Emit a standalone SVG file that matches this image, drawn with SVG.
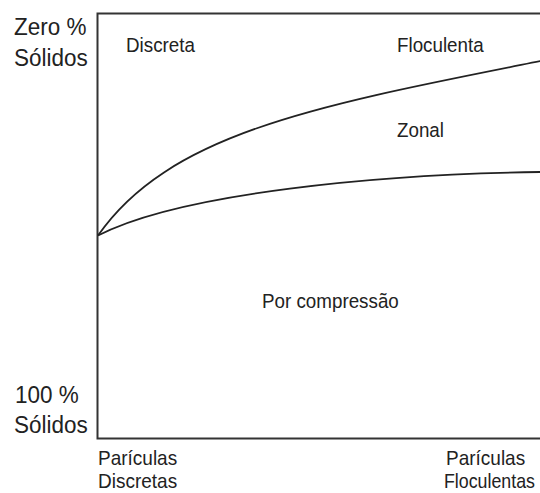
<svg xmlns="http://www.w3.org/2000/svg" width="540" height="493" viewBox="0 0 540 493">
  <style>
    text { font-family: "Liberation Sans", Arial, sans-serif; fill: #222; }
    .axis { font-size: 22.5px; }
    .reg { font-size: 18.8px; }
    .bot { font-size: 19px; }
    .frame { fill: none; stroke: #333; stroke-width: 2; }
    .curve { fill: none; stroke: #222; stroke-width: 1.8; }
  </style>
  <rect width="540" height="493" fill="#fff"/>
  <g id="frame">
    <path class="frame" d="M541,13.5 H97.5 V438.5 H541"/>
  </g>
  <g id="connectors">
    <path class="curve" d="M98,235.5 C170,132 320,105 541,61"/>
    <path class="curve" d="M98,235.5 C180,193 380,174 541,172"/>
  </g>
  <g id="y-axis-labels">
    <text class="axis" transform="translate(14,35) scale(1,1.1)">Zero %</text>
    <text class="axis" transform="translate(14,66) scale(1,1.1)">Sólidos</text>
    <text class="axis" transform="translate(15,403) scale(1,1.1)">100 %</text>
    <text class="axis" transform="translate(14,433) scale(1,1.1)">Sólidos</text>
  </g>
  <g id="region-discreta">
    <text class="reg" transform="translate(126,52) scale(1,1.1)">Discreta</text>
  </g>
  <g id="region-floculenta">
    <text class="reg" transform="translate(397,52) scale(1,1.1)">Floculenta</text>
  </g>
  <g id="region-zonal">
    <text class="reg" transform="translate(397,137) scale(1,1.1)">Zonal</text>
  </g>
  <g id="region-compressao">
    <text class="reg" transform="translate(262,308) scale(1,1.1)">Por compressão</text>
  </g>
  <g id="x-axis-labels">
    <text class="bot" transform="translate(98,465) scale(1,1.1)">Parículas</text>
    <text class="bot" transform="translate(98,488) scale(1,1.1)">Discretas</text>
    <text class="bot" transform="translate(446,465) scale(1,1.1)">Parículas</text>
    <text class="bot" transform="translate(444,488) scale(1,1.1)" style="font-size:17.8px">Floculentas</text>
  </g>
</svg>
